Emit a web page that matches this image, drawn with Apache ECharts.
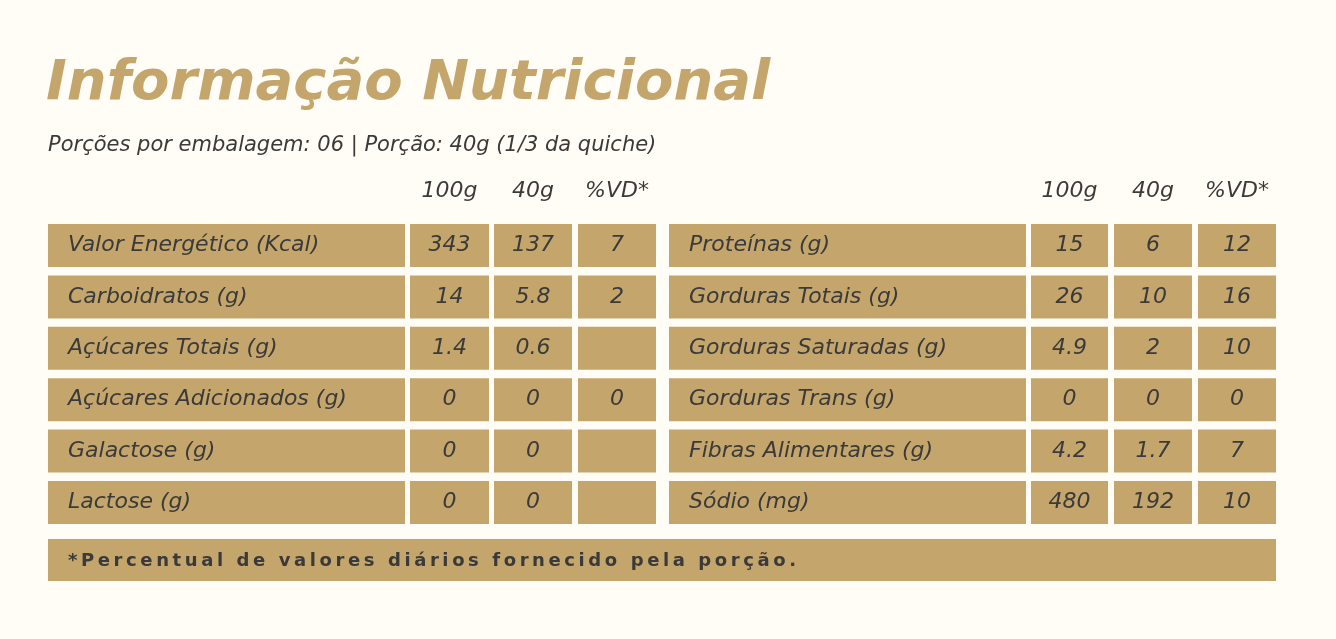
<!DOCTYPE html>
<html><head><meta charset="utf-8">
<script src="https://cdn.jsdelivr.net/npm/echarts@6/dist/echarts.min.js"></script>
<style>html,body{margin:0;background:#fffdf5}#c{width:1336px;height:639px}</style>
</head><body><div id="c"></div>
<script>
var title = 'Informação Nutricional';
var subtitle = 'Porções por embalagem: 06 | Porção: 40g (1/3 da quiche)';
var headers = ['100g', '40g', '%VD*'];
var leftNames = ['Valor Energético (Kcal)', 'Carboidratos (g)', 'Açúcares Totais (g)', 'Açúcares Adicionados (g)', 'Galactose (g)', 'Lactose (g)'];
var left100 = ['343', '14', '1.4', '0', '0', '0'];
var left40 = ['137', '5.8', '0.6', '0', '0', '0'];
var leftVD = ['7', '2', '', '0', '', ''];
var rightNames = ['Proteínas (g)', 'Gorduras Totais (g)', 'Gorduras Saturadas (g)', 'Gorduras Trans (g)', 'Fibras Alimentares (g)', 'Sódio (mg)'];
var right100 = ['15', '26', '4.9', '0', '4.2', '480'];
var right40 = ['6', '10', '2', '0', '1.7', '192'];
var rightVD = ['12', '16', '10', '0', '7', '10'];
var footnote = '*Percentual de valores diários fornecido pela porção.';

var gold = '#c4a56b', ink = '#3a3a3a';
var font = '"DejaVu Sans", sans-serif';
// column boxes [x, width]
var leftCols = [[48, 357], [410, 79], [494, 78], [578, 78]];
var rightCols = [[669, 357], [1031, 77], [1114, 78], [1198, 78]];
var rowTop = 224, rowStep = 51.4, rowH = 43;

var els = [];
function txt(x, y, s, opt) {
  els.push({type: 'text', x: x, y: y, style: Object.assign({
    text: s, fill: ink, font: 'oblique 22px ' + font, textVerticalAlign: 'middle'
  }, opt || {})});
}
txt(46, 84, title, {fill: gold, font: 'oblique bold 56px ' + font});
txt(48, 146, subtitle, {font: 'oblique 21px ' + font});

function block(cols, names, a, b, c) {
  headers.forEach(function (h, i) {
    var col = cols[i + 1];
    txt(col[0] + col[1] / 2, 191, h, {textAlign: 'center'});
  });
  names.forEach(function (n, r) {
    var y = rowTop + r * rowStep;
    var vals = [n, a[r], b[r], c[r]];
    cols.forEach(function (col, i) {
      els.push({type: 'rect', shape: {x: col[0], y: y, width: col[1], height: rowH}, style: {fill: gold}});
      if (i === 0) txt(col[0] + 20, y + rowH / 2, vals[i]);
      else txt(col[0] + col[1] / 2, y + rowH / 2, vals[i], {textAlign: 'center'});
    });
  });
}
block(leftCols, leftNames, left100, left40, leftVD);
block(rightCols, rightNames, right100, right40, rightVD);

els.push({type: 'rect', shape: {x: 48, y: 539, width: 1228, height: 42}, style: {fill: gold}});
txt(68, 561, footnote.split('').join('\u2009'), {font: 'bold 18px ' + font, fill: ink});

var chart = echarts.init(document.getElementById('c'));
chart.setOption({backgroundColor: '#fffdf5', graphic: {elements: els}});
</script></body></html>
